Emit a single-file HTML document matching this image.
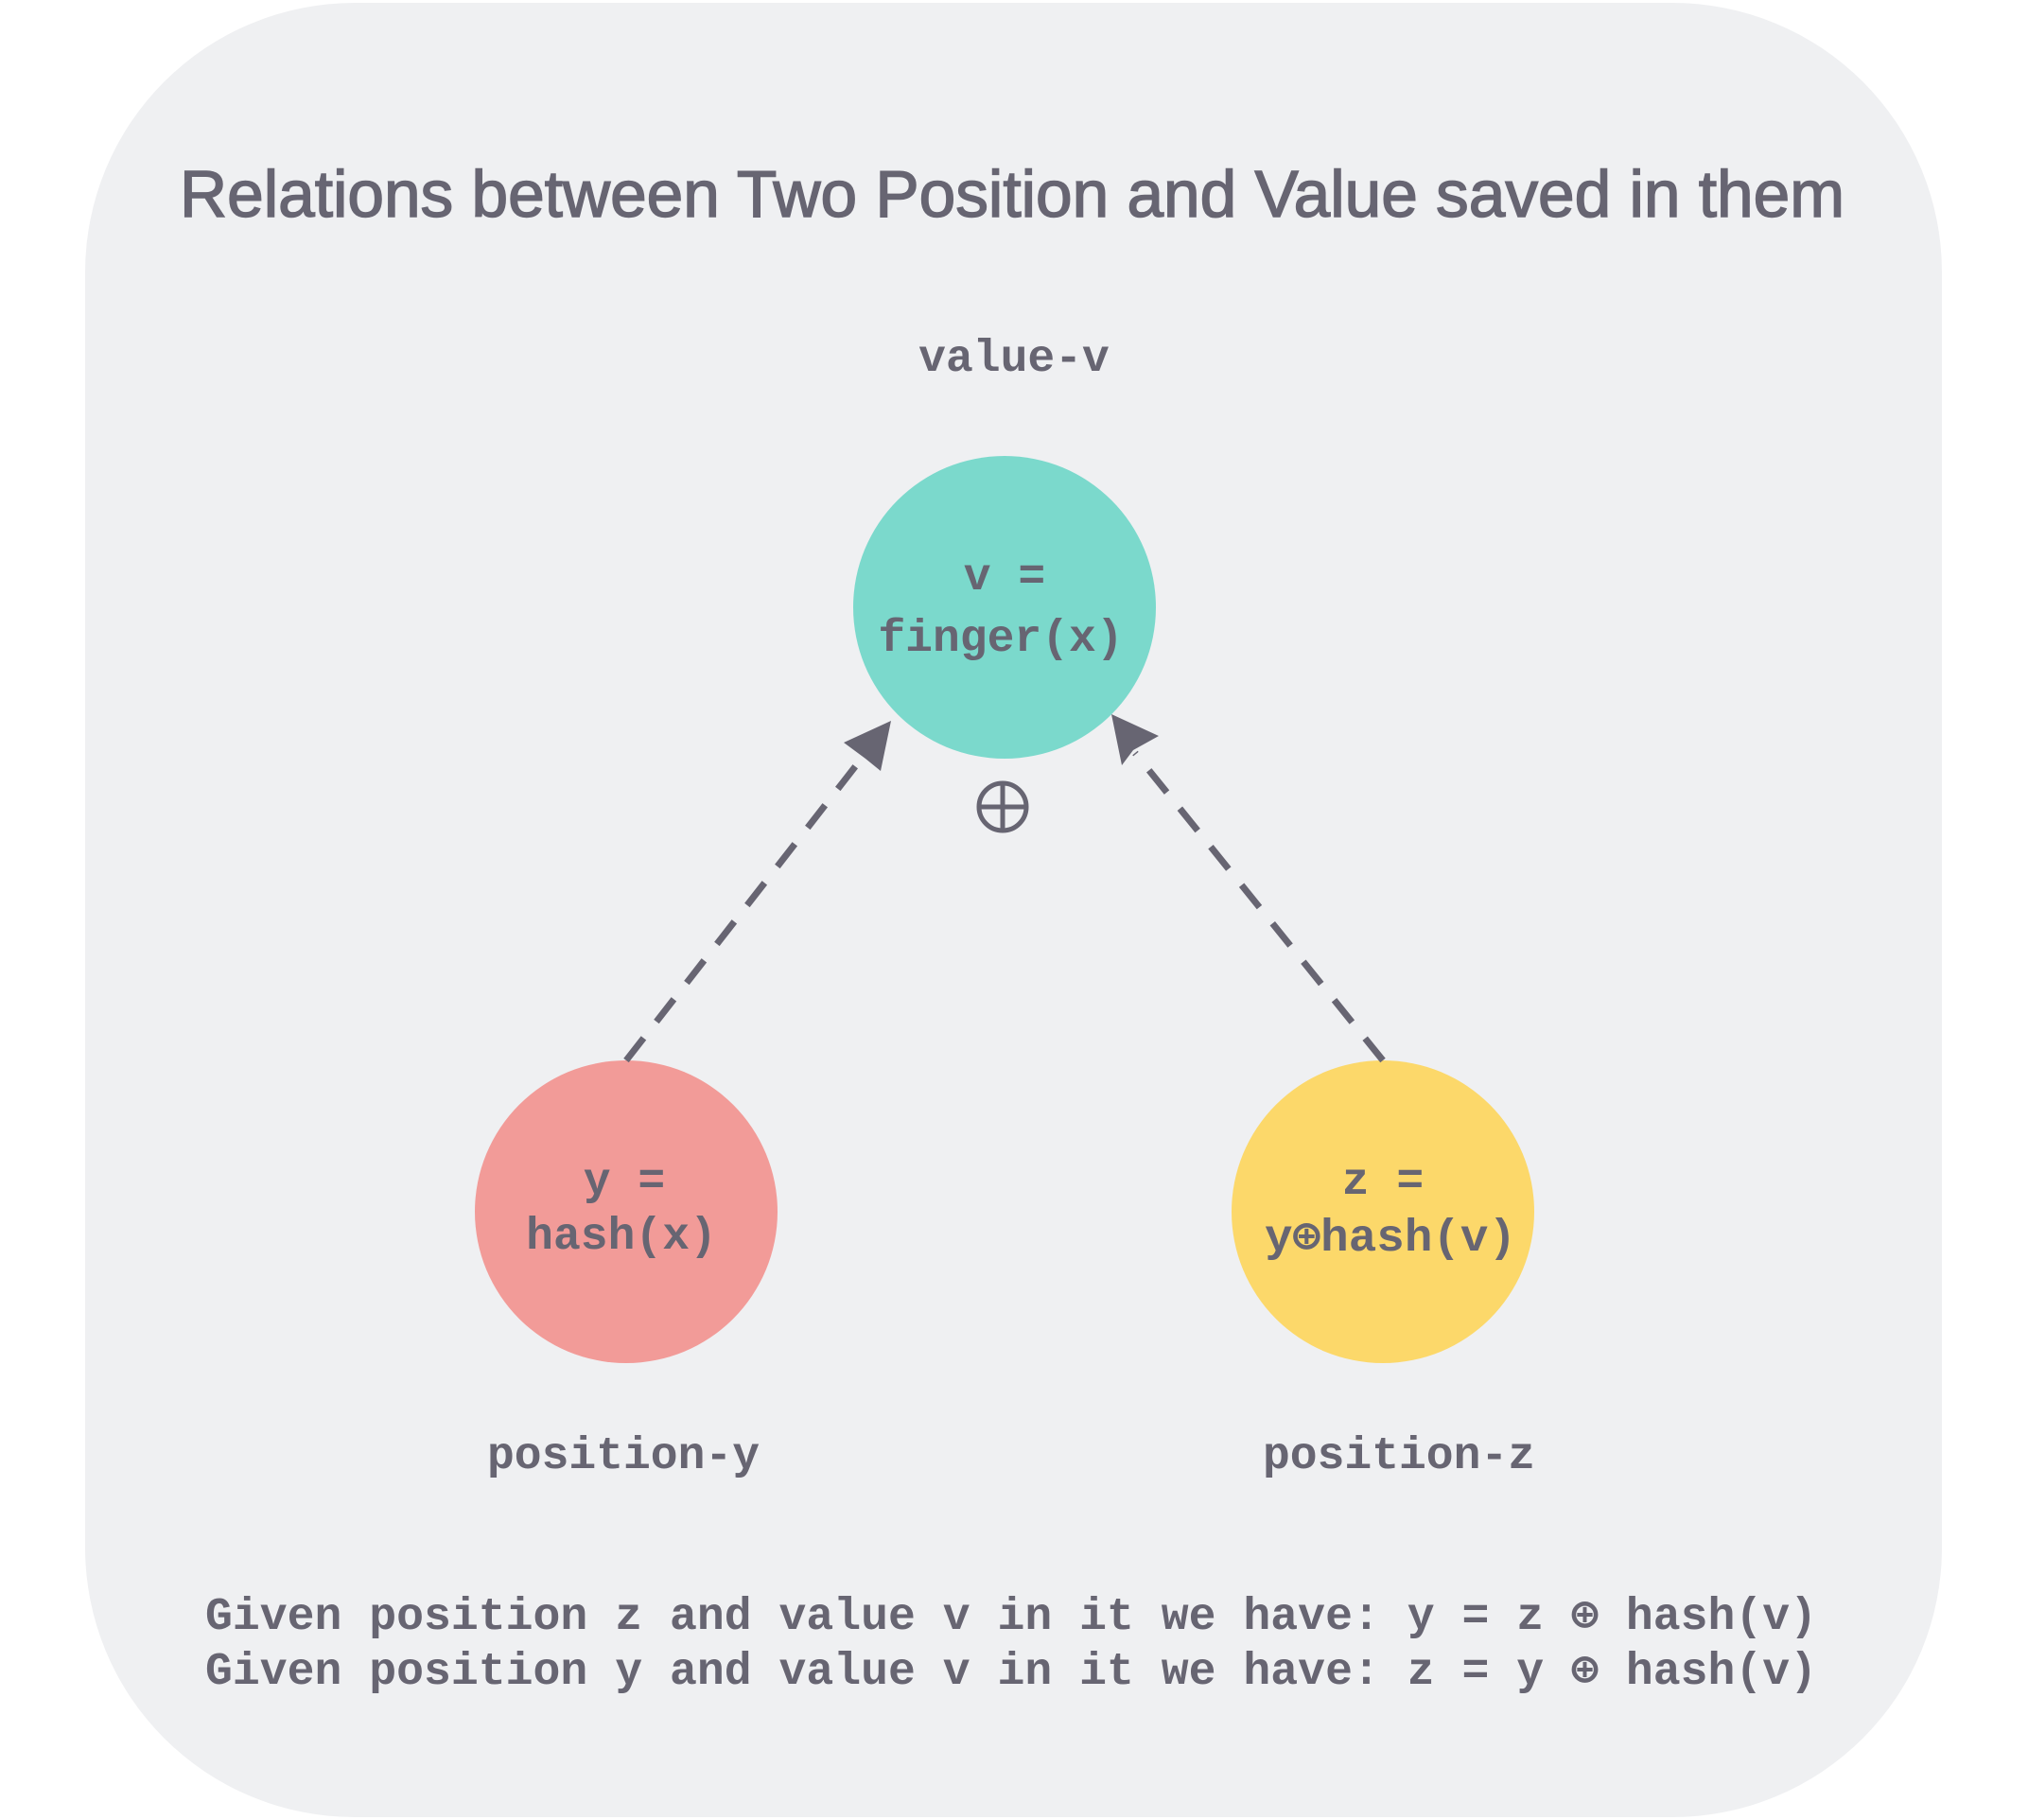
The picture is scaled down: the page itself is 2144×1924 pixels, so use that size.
<!DOCTYPE html>
<html><head><meta charset="utf-8"><style>
html,body{margin:0;padding:0;background:#fff;}
svg{display:block;}
.m{font-family:"Liberation Mono","DejaVu Sans Mono",monospace;font-weight:bold;font-size:48px;fill:#676572;}
</style></head><body>
<svg width="2144" height="1924" viewBox="0 0 2144 1924" xmlns="http://www.w3.org/2000/svg">
<rect x="90" y="3" width="1963" height="1918" rx="285" ry="285" fill="#eff0f2"/>
<text x="190" y="229" textLength="1760" lengthAdjust="spacingAndGlyphs" style="font-family:'Comic Sans MS','Liberation Sans',sans-serif;font-size:70px;fill:#676572;stroke:#676572;stroke-width:1.5px;">Relations between Two Position and Value saved in them</text>
<text class="m" x="1072" y="392" text-anchor="middle">value-v</text>
<circle cx="1062" cy="642" r="160" fill="#7bd9cc"/>
<circle cx="662" cy="1281" r="160" fill="#f29b98"/>
<circle cx="1462" cy="1281" r="160" fill="#fcd86a"/>
<text class="m" x="1062" y="623" text-anchor="middle">v =</text>
<text class="m" x="1058" y="688" text-anchor="middle">finger(x)</text>
<text class="m" x="660" y="1262" text-anchor="middle">y =</text>
<text class="m" x="657" y="1320" text-anchor="middle">hash(x)</text>
<text class="m" x="1462" y="1262" text-anchor="middle">z =</text>
<text class="m" x="1470" y="1322" text-anchor="middle" textLength="266" lengthAdjust="spacingAndGlyphs">y⊕hash(v)</text>
<g stroke="#676572" stroke-width="7" fill="none">
<line x1="662" y1="1121" x2="913" y2="799" stroke-dasharray="30 22"/>
<line x1="1462" y1="1121" x2="1200" y2="796" stroke-dasharray="30 22"/>
<circle cx="1060" cy="853" r="25" stroke-width="5"/>
<line x1="1035" y1="853" x2="1085" y2="853" stroke-width="5"/>
<line x1="1060" y1="828" x2="1060" y2="878" stroke-width="5"/>
</g>
<polygon points="942,762 931,815 915,802 892,785" fill="#676572"/>
<polygon points="1175,755 1225,778 1198,793 1186,809" fill="#676572"/>
<text class="m" x="659" y="1552" text-anchor="middle">position-y</text>
<text class="m" x="1479" y="1552" text-anchor="middle">position-z</text>
<text class="m" x="217" y="1722" textLength="1704" lengthAdjust="spacingAndGlyphs">Given position z and value v in it we have: y = z ⊕ hash(v)</text>
<text class="m" x="217" y="1780" textLength="1704" lengthAdjust="spacingAndGlyphs">Given position y and value v in it we have: z = y ⊕ hash(v)</text>
</svg>
</body></html>
